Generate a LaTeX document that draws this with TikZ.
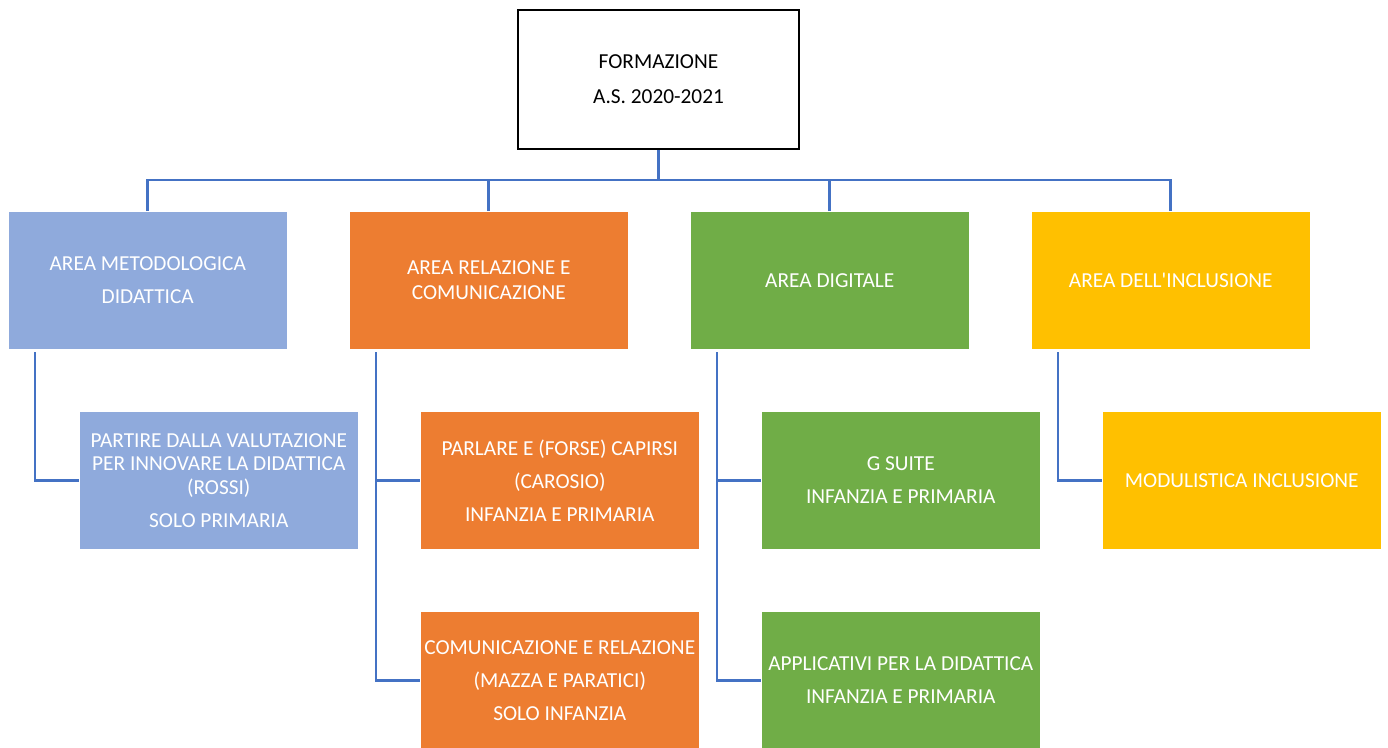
\documentclass[tikz,border=0pt]{standalone}
\usepackage{fontspec}
\setmainfont{Carlito}[Ligatures=TeXOff]
\definecolor{cblue}{HTML}{8FAADC}
\definecolor{corange}{HTML}{ED7D31}
\definecolor{cgreen}{HTML}{70AD47}
\definecolor{cyellow}{HTML}{FFC000}
\definecolor{cline}{HTML}{4472C4}
\begin{document}
\begin{tikzpicture}[x=0.75pt,y=-0.75pt,
  area/.style={anchor=north west, draw=white, line width=0.4pt, minimum width=209.25pt, minimum height=103.5pt, inner sep=2pt, align=center, text=white, font=\fontsize{16}{17.6}\selectfont},
  topbox/.style={draw=black, line width=1.9pt, fill=white, minimum width=210.5pt, minimum height=104pt, align=center, font=\fontsize{16}{17.6}\selectfont},
  conn/.style={draw=cline, line width=2.2pt}]
\useasboundingbox (0,0) rectangle (1388,747);
% top
\node[topbox] (top) at (658.5,79.5) {FORMAZIONE\\[8.65pt]A.S. 2020-2021};
% level 1
\node[area, fill=cblue] (a1) at (8,211) {AREA METODOLOGICA\\[7.15pt]DIDATTICA};
\node[area, fill=corange] (a2) at (349,211) {AREA RELAZIONE E\\[0.8pt]COMUNICAZIONE};
\node[area, fill=cgreen] (a3) at (690,211) {AREA DIGITALE};
\node[area, fill=cyellow] (a4) at (1031,211) {AREA DELL'INCLUSIONE};
% level 2
\node[area, fill=cblue] (b1) at (79,411) {PARTIRE DALLA VALUTAZIONE\\PER INNOVARE LA DIDATTICA\\(ROSSI)\\[7.15pt]SOLO PRIMARIA};
\node[area, fill=corange] (b2) at (420,411) {PARLARE E (FORSE) CAPIRSI\\[7.15pt](CAROSIO)\\[7.15pt]INFANZIA E PRIMARIA};
\node[area, fill=corange] (b3) at (420,611) {COMUNICAZIONE E RELAZIONE\\[7.15pt](MAZZA E PARATICI)\\[7.15pt]SOLO INFANZIA};
\node[area, fill=cgreen] (b4) at (761,411) {G SUITE\\[7.15pt]INFANZIA E PRIMARIA};
\node[area, fill=cgreen] (b5) at (761,611) {APPLICATIVI PER LA DIDATTICA\\[7.15pt]INFANZIA E PRIMARIA};
\node[area, fill=cyellow] (b6) at (1102,411) {MODULISTICA INCLUSIONE};
% connectors
\coordinate (bus) at (658.5,180);
\draw[conn] (top.south) -- (bus);
\draw[conn] (a1.north) |- (bus);
\draw[conn] (a2.north) |- (bus);
\draw[conn] (a3.north) |- (bus);
\draw[conn] (a4.north) |- (bus);
\draw[conn] ([xshift=20.25pt,yshift=-2pt]a1.south west) |- (b1.west);
\draw[conn] ([xshift=20.25pt,yshift=-2pt]a2.south west) |- (b2.west);
\draw[conn] ([xshift=20.25pt,yshift=-2pt]a2.south west) |- (b3.west);
\draw[conn] ([xshift=20.25pt,yshift=-2pt]a3.south west) |- (b4.west);
\draw[conn] ([xshift=20.25pt,yshift=-2pt]a3.south west) |- (b5.west);
\draw[conn] ([xshift=20.25pt,yshift=-2pt]a4.south west) |- (b6.west);
\end{tikzpicture}
\end{document}
